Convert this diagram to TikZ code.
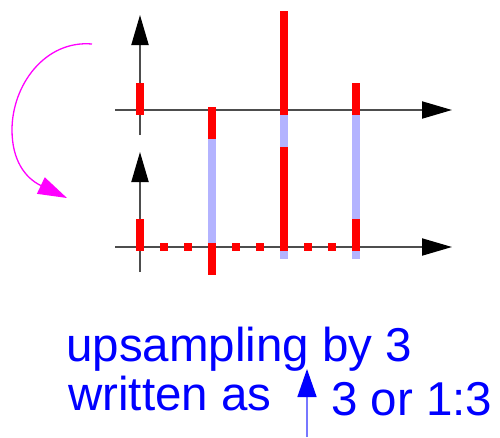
\documentclass[tikz,border=0pt]{standalone}
\usepackage{fontspec}
\setmainfont{Liberation Sans}
\usetikzlibrary{arrows.meta}
\definecolor{axisgray}{HTML}{4D4D4D}
\definecolor{ghost}{HTML}{B3B3FF}
\definecolor{mag}{HTML}{FF00FF}
\definecolor{pureblue}{HTML}{0000FF}
\definecolor{lineblue}{HTML}{7777FF}
\tikzset{
  axisline/.style={draw=axisgray,line width=2pt,-{Triangle[length=30pt,width=17pt,fill=black,color=black]}},
  redstem/.style={fill=red},
  ghoststem/.style={fill=ghost},
  label/.style={inner sep=0pt,anchor=base west,text=pureblue,font=\fontsize{47.5}{49}\selectfont},
}
\begin{document}
\begin{tikzpicture}[x=1pt,y=-1pt]
\useasboundingbox (0,0) rectangle (500,437);
% axes coordinates
\coordinate (th0) at (115,110); \coordinate (th1) at (452,110);
\coordinate (tv0) at (140,135); \coordinate (tv1) at (140,15);
\coordinate (bh0) at (115,247); \coordinate (bh1) at (452,247);
\coordinate (bv0) at (140,272); \coordinate (bv1) at (140,152);
\draw[axisline] (th0) -- (th1);
\draw[axisline] (tv0) -- (tv1);
\draw[axisline] (bh0) -- (bh1);
\draw[axisline] (bv0) -- (bv1);
% ghost strips
\fill[ghoststem] (208,139) rectangle (216,243);
\fill[ghoststem] (280,115) rectangle (288,259);
\fill[ghoststem] (352,115) rectangle (360,259);
% top signal
\fill[redstem] (136,83) rectangle (144,115);
\fill[redstem] (208,107) rectangle (216,139);
\fill[redstem] (280,11) rectangle (288,115);
\fill[redstem] (352,83) rectangle (360,115);
% bottom signal
\fill[redstem] (136,219) rectangle (144,251);
\fill[redstem] (208,243) rectangle (216,275);
\fill[redstem] (280,147) rectangle (288,251);
\fill[redstem] (352,219) rectangle (360,251);
\foreach \x in {164,188,236,260,308,332}
  \fill[redstem] (\x-4,243) rectangle (\x+4,251);
% magenta curved arrow
\coordinate (ms) at (92,44);
\coordinate (mm) at (12,130);
\coordinate (me) at (67,198);
\draw[mag,line width=1.3pt,-{Triangle[length=29pt,width=18pt]}]
  (ms) .. controls (45,40) and (12,85) .. (mm) .. controls (12,160) and (25,178) .. (me);
% texts
\node[label] (t1) at (66,361) {upsampling by 3};
\node[label] (t2) at (68,410) {written as};
\node[label] (t3) at (331,415) {3 or 1:3};
% blue arrow
\coordinate (ba0) at (307,437);
\coordinate (ba1) at (307,369);
\draw[lineblue,line width=1.5pt,-{Triangle[length=28pt,width=19pt,color=pureblue]}] (ba0) -- (ba1);
\end{tikzpicture}
\end{document}
